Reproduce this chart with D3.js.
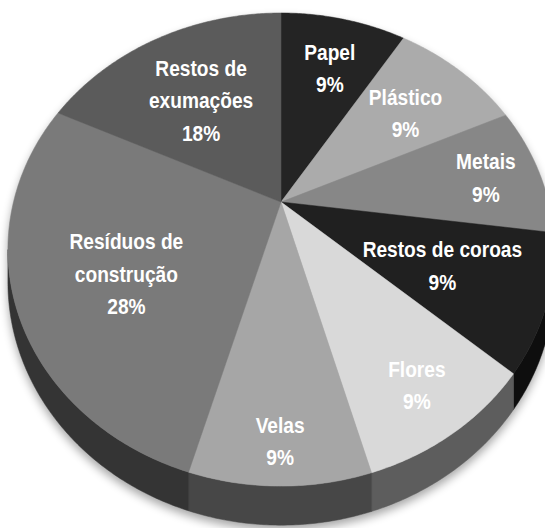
<!DOCTYPE html>
<html>
<head>
<meta charset="utf-8">
<script src="https://cdn.jsdelivr.net/npm/d3@7"></script>
<style>
  body { margin: 0; background: #fff; }
  svg { display: block; }
</style>
</head>
<body>
<script>
// data (shares of waste, %)
const categories = ["Papel", "Plástico", "Metais", "Restos de coroas", "Flores", "Velas", "Resíduos de construção", "Restos de exumações"];
const values = [9.0, 9.2, 8.9, 9.3, 9.2, 8.9, 27.5, 18.0];
const colors = ["#242424", "#ababab", "#878787", "#202020", "#d9d9d9", "#a6a6a6", "#7a7a7a", "#5b5b5b"];

// where each label sits: fraction of radius, and small angle nudge (deg)
const labelRadius = [0.70, 0.66, 0.79, 0.63, 0.82, 0.87, 0.62, 0.59];
const labelShift = [1, 1, 0.6, 0.7, 0.2, 0, -4.5, -1.4];

const width = 545, height = 528;

// 3D pie projection (perspective tilt)
const cx = 281, cy = 202, rx = 267.5, ry = 227, persp = 0.201, depth = 31.2;

function project(a, r) {
  const w = 1 / (1 + persp * r * Math.cos(a));
  return [cx + rx * r * Math.sin(a) * w, cy - ry * r * Math.cos(a) * w];
}
function drop(a) {
  const p = project(a, 1);
  const w = 1 / (1 + persp * Math.cos(a));
  return [p[0], p[1] + depth * w];
}
function angles(a0, a1) {
  const n = Math.max(2, Math.ceil((a1 - a0) / (Math.PI / 360)));
  return d3.range(n + 1).map(i => a0 + (a1 - a0) * i / n);
}

const svg = d3.select("body").append("svg")
    .attr("width", width)
    .attr("height", height);

svg.append("defs").append("filter")
    .attr("id", "soft")
    .attr("x", "-20%").attr("y", "-20%")
    .attr("width", "140%").attr("height", "140%")
  .append("feGaussianBlur")
    .attr("stdDeviation", 5);

const pie = d3.pie().sort(null).value(d => d);
const arcs = pie(values);
const total = d3.sum(values);
const line = d3.line();

// front part of the rim that faces the viewer
const sideA = Math.acos(-persp), sideB = 2 * Math.PI - sideA;

// soft shadow under the pie
const outline = angles(sideA, sideB).map(drop)
  .concat(angles(sideB, 2 * Math.PI + sideA).map(a => project(a, 1)));
svg.append("path")
    .attr("d", line(outline) + "Z")
    .attr("transform", "translate(0,5)")
    .attr("fill", "#000")
    .attr("opacity", 0.35)
    .attr("filter", "url(#soft)");

// sides
const sides = svg.append("g");
arcs.forEach((d, i) => {
  const a0 = Math.max(d.startAngle, sideA), a1 = Math.min(d.endAngle, sideB);
  if (a1 <= a0) return;
  const as = angles(a0, a1);
  const pts = as.map(a => project(a, 1)).concat(as.slice().reverse().map(drop));
  const c = d3.interpolateRgb(colors[i], "#000")(0.57);
  sides.append("path")
      .attr("d", line(pts) + "Z")
      .attr("fill", c)
      .attr("stroke", c)
      .attr("stroke-width", 0.5);
});

// top faces
const tops = svg.append("g");
arcs.forEach((d, i) => {
  const pts = [project(0, 0)].concat(angles(d.startAngle, d.endAngle).map(a => project(a, 1)));
  tops.append("path")
      .attr("d", line(pts) + "Z")
      .attr("fill", colors[i])
      .attr("stroke", colors[i])
      .attr("stroke-width", 0.5);
});

// labels (narrowed to mimic the condensed font of the original)
const lineGap = 32.5, squeeze = 0.87;
const labels = svg.append("g")
    .attr("font-family", "'Liberation Sans', Arial, sans-serif")
    .attr("font-weight", "bold")
    .attr("font-size", 22)
    .attr("fill", "#fff")
    .attr("text-anchor", "middle");

arcs.forEach((d, i) => {
  const mid = (d.startAngle + d.endAngle) / 2 + labelShift[i] * Math.PI / 180;
  const [lx, ly] = project(mid, labelRadius[i]);
  const text = labels.append("text")
      .attr("transform", `translate(${lx},${ly}) scale(${squeeze},1)`);

  // greedy word wrap
  const words = categories[i].split(" ");
  const rows = [];
  let cur = [];
  const probe = text.append("tspan");
  words.forEach(w => {
    const trial = cur.concat(w).join(" ");
    probe.text(trial);
    if (cur.length && probe.node().getComputedTextLength() * squeeze > 170) {
      rows.push(cur.join(" "));
      cur = [w];
    } else {
      cur.push(w);
    }
  });
  rows.push(cur.join(" "));
  probe.remove();
  rows.push(Math.round(d.value / total * 100) + "%");

  rows.forEach((r, k) => {
    text.append("tspan")
        .attr("x", 0)
        .attr("y", (k - (rows.length - 1) / 2) * lineGap)
        .attr("dy", "0.35em")
        .text(r);
  });
});
</script>
</body>
</html>
